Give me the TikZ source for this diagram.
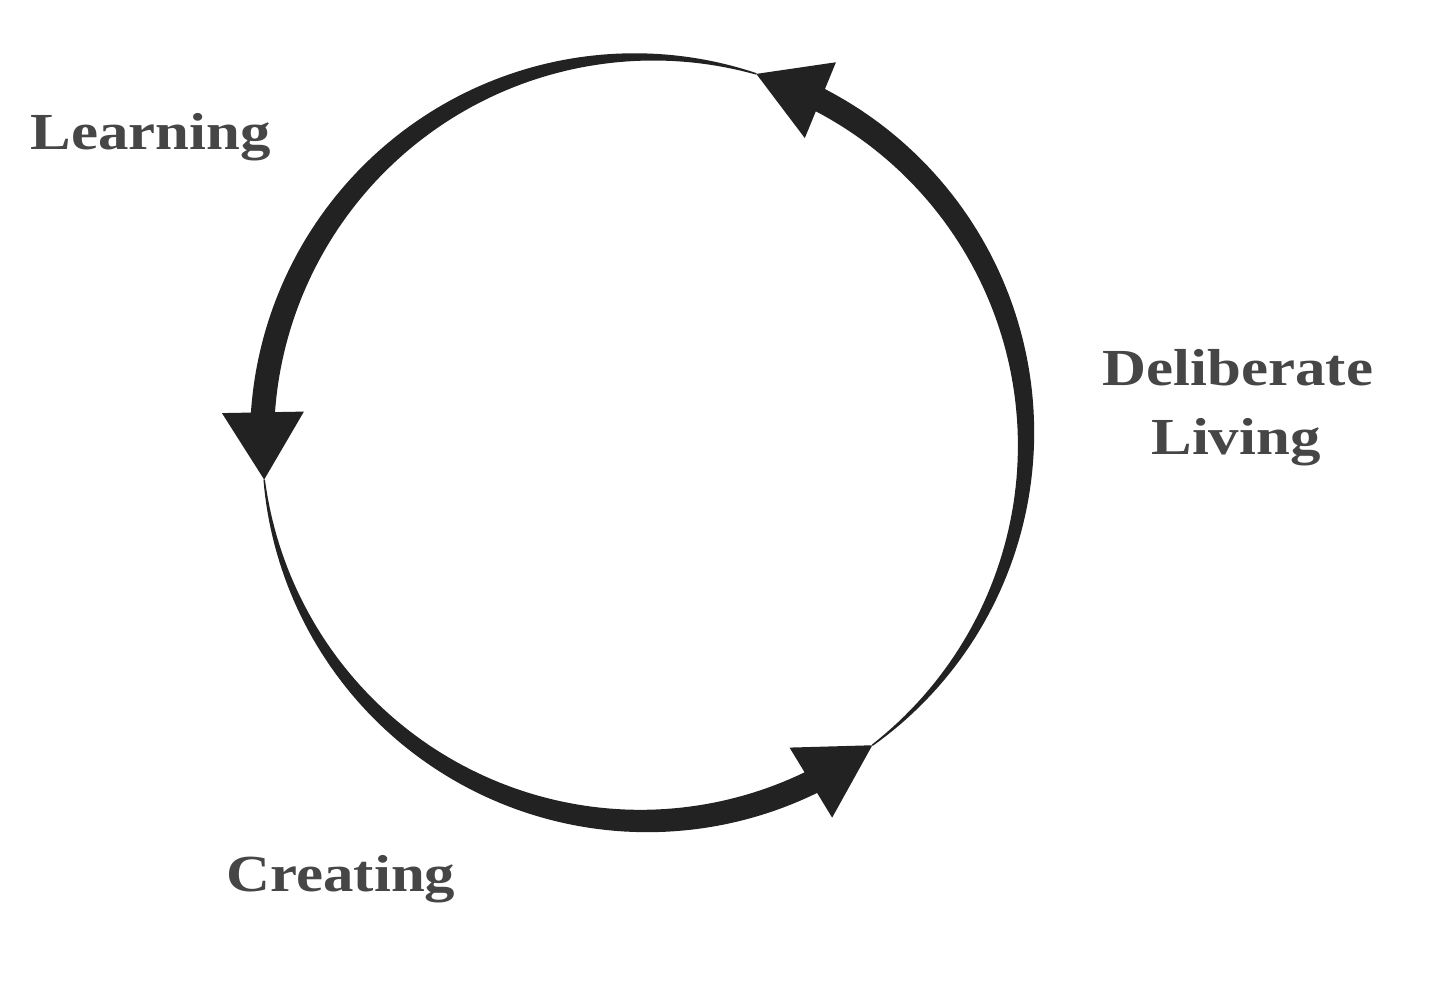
\documentclass[tikz,border=0pt]{standalone}
\usepackage{fontspec}
\setmainfont{Liberation Serif}
\newfontfamily\lblfont{Liberation Serif}[FakeStretch=1.17]
\usetikzlibrary{calc}
\definecolor{ink}{HTML}{222222}
\definecolor{txt}{HTML}{464646}
\newcommand\cxx{644}
\newcommand\cyy{439}
\newcommand\rad{382}
% tapered arc body: start angle, end angle, start width, max width
\newcommand\taperarc[4]{%
  \fill[ink] plot[domain=#1:#2,samples=90,variable=\t]
    ({\cxx+(\rad+0.5*(#3+(#4-#3)*sin(90*(\t-(#1))/((#2)-(#1)))))*cos(\t)},
     {\cyy-(\rad+0.5*(#3+(#4-#3)*sin(90*(\t-(#1))/((#2)-(#1)))))*sin(\t)})
    -- plot[domain=#2:#1,samples=90,variable=\t]
    ({\cxx+(\rad-0.5*(#3+(#4-#3)*sin(90*(\t-(#1))/((#2)-(#1)))))*cos(\t)},
     {\cyy-(\rad-0.5*(#3+(#4-#3)*sin(90*(\t-(#1))/((#2)-(#1)))))*sin(\t)})
    -- cycle;}
% arrow head: name, tip angle, base angle
\newcommand\arrowhd[3]{%
  \coordinate (#1t) at ({\cxx+\rad*cos(#2)},{\cyy-\rad*sin(#2)});
  \coordinate (#1b) at ({\cxx+\rad*cos(#3)},{\cyy-\rad*sin(#3)});
  \fill[ink] (#1t) -- ($(#1b)!0.82cm!90:(#1t)$) -- ($(#1b)!0.82cm!-90:(#1t)$) -- cycle;}
\begin{document}
\begin{tikzpicture}[x=0.02cm,y=-0.02cm,
  lbl/.style={font=\lblfont\bfseries\fontsize{29.6}{32}\selectfont, text=txt, anchor=base, inner sep=0pt}]
\fill[white] (0,0) rectangle (1440,990);
\useasboundingbox (0,0) rectangle (1440,990);
% right arc: Creating -> Deliberate Living -> top
\taperarc{-53.3}{63.5}{1.5}{24}
\arrowhd{a}{72.9}{62.5}
% top-left arc -> Learning
\taperarc{72.9}{177}{1.5}{24}
\arrowhd{b}{186.1}{176}
% bottom arc -> Creating
\taperarc{186.1}{297}{1.5}{24}
\arrowhd{c}{306.7}{295.9}
% labels
\node[lbl] (learn) at (150.5,150) {Learning};
\node[lbl] (deli) at (1238,385) {Deliberate};
\node[lbl] (living) at (1236,454) {Living};
\node[lbl] (create) at (341,891) {Creating};
\end{tikzpicture}
\end{document}
